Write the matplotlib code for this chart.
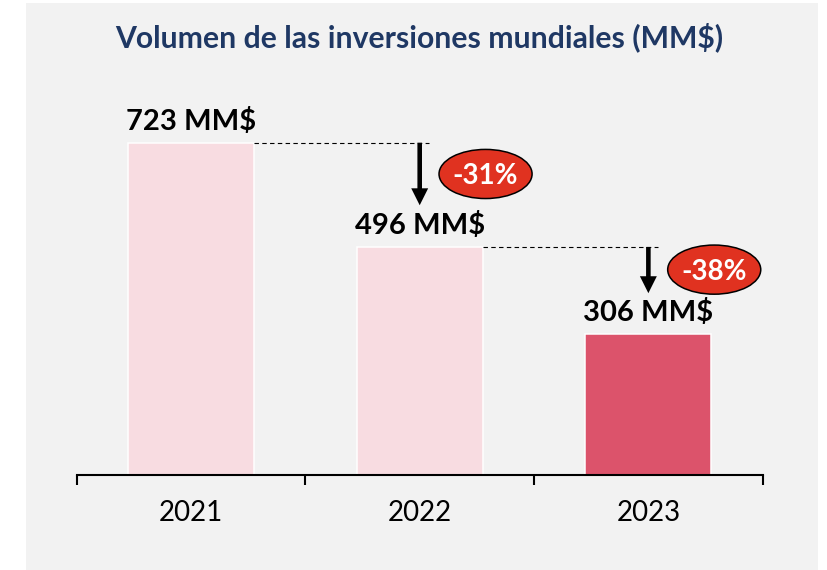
import matplotlib
matplotlib.use("Agg")
import matplotlib.pyplot as plt
from matplotlib.patches import Ellipse, Rectangle

# ---- data ----
years = ["2021", "2022", "2023"]
volumes = [723, 496, 306]
title = "Volumen de las inversiones mundiales (MM$)"
unit = "MM$"

# ---- style ----
plt.rcParams['font.family'] = ['Lato', 'DejaVu Sans']
bg = "#F2F2F2"
light = "#F8DCE1"
dark = "#DC536B"
badge_red = "#E03220"
navy = "#1F3864"
bar_colors = [light, light, dark]
bar_width = 0.55

fig = plt.figure(figsize=(8.28, 5.70), dpi=100)
fig.patches.append(Rectangle((26 / 828, 0), (818 - 26) / 828, 567 / 570,
                             transform=fig.transFigure, facecolor=bg,
                             edgecolor='none', zorder=-10))

ax = fig.add_axes([76.7 / 828, 95.3 / 570, 686 / 828, 394.9 / 570])
ax.set_facecolor('none')
x = list(range(len(years)))
ax.bar(x, volumes, width=bar_width, color=bar_colors, edgecolor='white',
       linewidth=1.1, zorder=2)
ax.set_xlim(-0.5, len(years) - 0.5)
ax.set_ylim(0, 860)

for s in ['left', 'right', 'top']:
    ax.spines[s].set_visible(False)
ax.spines['bottom'].set_linewidth(1.5)
ax.spines['bottom'].set_color('black')
ax.set_yticks([])
ax.set_xticks([i - 0.5 for i in range(len(years) + 1)])
ax.set_xticklabels([])
ax.tick_params(axis='x', which='major', length=7.2, width=1.5, direction='out', color='black')
ax.set_xticks(x, minor=True)
ax.set_xticklabels(years, minor=True, fontsize=20, color='black')
ax.tick_params(axis='x', which='minor', length=0, pad=18.5)

# value labels
for i, v in enumerate(volumes):
    ax.annotate(f"{v} {unit}", xy=(i, v), xytext=(0, 9.4), textcoords='offset points',
                ha='center', va='baseline', fontsize=21, fontweight='bold', color='black')

# change arrows and badges
arrow_frac = [0.60, 0.53]
badge_frac = [0.30, 0.26]
for k in range(1, len(volumes)):
    prev, cur = volumes[k - 1], volumes[k]
    pct = round((cur / prev - 1) * 100)
    ax.plot([k - 1 + bar_width / 2, k + 0.04], [prev, prev], color='black', lw=0.8,
            ls=(0, (4, 3)), zorder=3)
    tip = prev - arrow_frac[k - 1] * (prev - cur)
    ax.annotate('', xy=(k, tip), xytext=(k, prev),
                arrowprops=dict(width=3.3, headwidth=12.2, headlength=12.2,
                                facecolor='black', edgecolor='black', lw=0,
                                shrink=0), zorder=4)
    by = prev - badge_frac[k - 1] * (prev - cur)
    bx = k + 0.288
    ax.add_patch(Ellipse((bx, by), 0.407, 107, facecolor=badge_red,
                         edgecolor='black', lw=1.1, zorder=5))
    ax.text(bx, by, f"{pct}%", ha='center', va='center_baseline', fontsize=20,
            fontweight='bold', color='white', zorder=6)

fig.text((76.7 + 343) / 828, 1 - 47.3 / 570, title, ha='center', va='baseline',
         fontsize=21.7, fontweight='bold', color=navy)

fig.savefig("out.png", dpi=100, facecolor='white')
